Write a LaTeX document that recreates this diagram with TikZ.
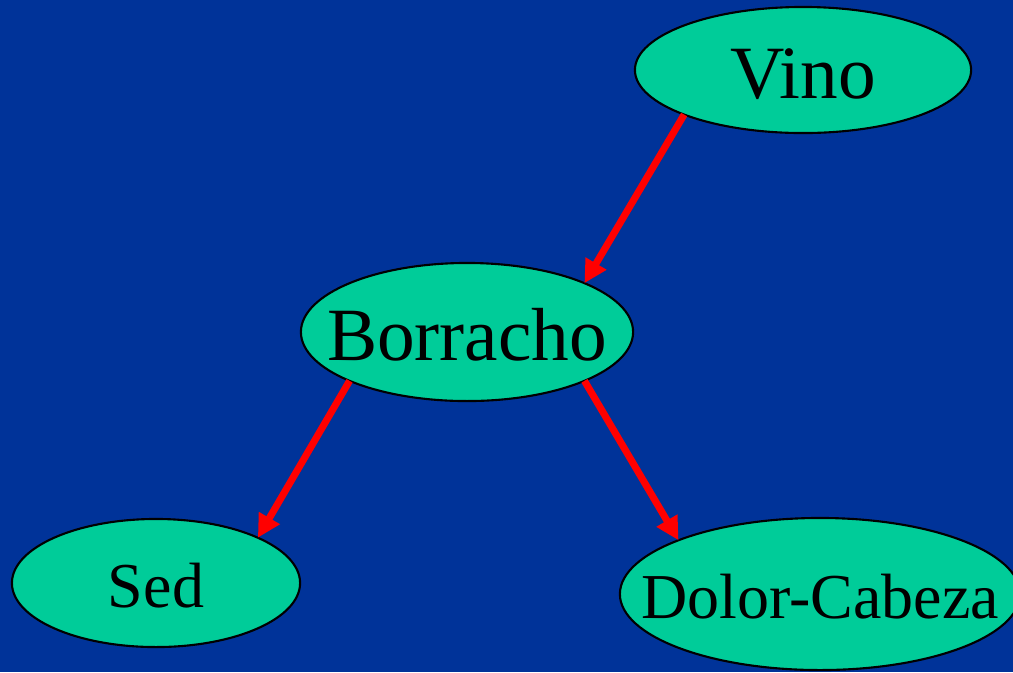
\documentclass[tikz,border=0pt]{standalone}
\usepackage{fontspec}
\setmainfont{Liberation Serif}
\usetikzlibrary{shapes.geometric}
\usetikzlibrary{arrows.meta}
\definecolor{bgblue}{RGB}{0,51,153}
\definecolor{nodegreen}{RGB}{0,204,153}

\begin{document}
\begin{tikzpicture}[x=0.01cm, y=-0.01cm,
        var/.style={draw, ellipse, fill=nodegreen, line width=0.6pt, inner sep=0pt, outer sep=0pt, text depth=0pt},
        big/.style={font=\fontsize{21.4}{25}\selectfont, text height=16.3pt},
        small/.style={font=\fontsize{18.2}{22}\selectfont, text height=14.1pt},
        link/.style={-{Triangle[length=6.5pt,width=6.5pt]}, red, line width=2pt}]
            \fill[bgblue] (0,0) rectangle (1013,672);
            \useasboundingbox (0,0) rectangle (1013,672);

            \node[var, big, minimum width=3.36cm, minimum height=1.26cm] (vino) at (803,70) {\makebox[0pt]{Vino}};
            \node[var, big, minimum width=3.32cm, minimum height=1.38cm] (borracho) at (467,332) {\makebox[0pt]{Borracho}};
            \node[var, small, minimum width=2.88cm, minimum height=1.28cm] (sed) at (156,583) {\makebox[0pt]{Sed}};
            \node[var, small, minimum width=4.00cm, minimum height=1.52cm] (dolor) at (820,594) {\makebox[0pt]{Dolor-Cabeza}};

            \draw[link] (vino.south west) -- (borracho.north east);
            \draw[link] (borracho.south west) -- (sed.north east);
            \draw[link] (borracho.south east) -- (dolor.north west);
        \end{tikzpicture}
\end{document}
